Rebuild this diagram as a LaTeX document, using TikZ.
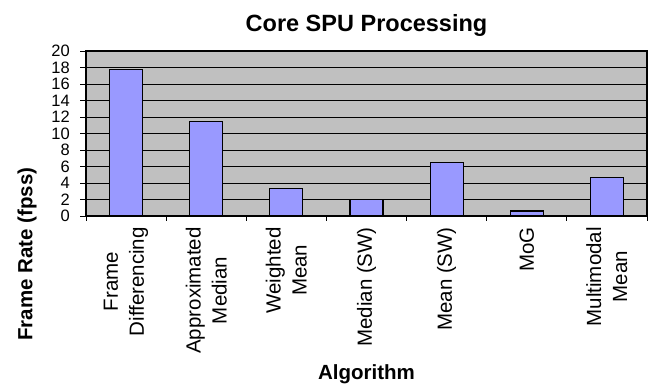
\documentclass[tikz,border=0pt]{standalone}
\usepackage{fontspec}
\setmainfont{Liberation Sans}
\usetikzlibrary{positioning}
\definecolor{plotgray}{HTML}{C0C0C0}
\definecolor{barblue}{HTML}{9999FF}

\begin{document}
\begin{tikzpicture}[
  x=1pt,y=1pt,
  plotarea/.style={fill=plotgray},
  grid line/.style={line width=0.9pt},
  frame/.style={draw,line width=1.2pt},
  bar/.style={draw,line width=1.2pt,fill=barblue},
  tickmark/.style={line width=0.9pt},
  ticklabel/.style={anchor=east,inner sep=0pt,font=\fontsize{16.5}{18}\selectfont},
  catlabel/.style={rotate=90,anchor=east,align=center,inner sep=0pt,font=\fontsize{20.5}{26}\selectfont},
  axistitle/.style={inner sep=0pt,font=\fontsize{20.5}{24}\selectfont\bfseries}
]
\useasboundingbox (0,0) rectangle (649,390);
% plot area: value 0 at y=174, value 20 at y=339, 8.25pt per unit
\fill[plotarea] (86,174) rectangle (647,339);
\foreach \v in {2,4,...,18}
  \draw[grid line] (86,174+8.25*\v) -- (647,174+8.25*\v);
% bars, one per algorithm
\foreach \val [count=\i from 0] in {17.8,11.5,3.3,2.0,6.5,0.6,4.7}
  \draw[bar] (86+80.14*\i+23.57,174) rectangle (86+80.14*\i+56.57,174+8.25*\val);
\draw[frame] (86,174) rectangle (647,339);
% axis ticks and numbers
\foreach \v in {0,2,...,20} {
  \draw[tickmark] (80,174+8.25*\v) -- (86,174+8.25*\v);
  \node[ticklabel] (yl\v) at (70,174+8.25*\v) {\v};
}
\foreach \k in {0,...,7}
  \draw[tickmark] (86+80.14*\k,174) -- (86+80.14*\k,168.5);
% category names
\node[catlabel] (cat1) at (126.07,163) {Frame\\Differencing};
\node[catlabel] (cat2) at (206.21,163) {Approximated\\Median};
\node[catlabel] (cat3) at (286.35,163) {Weighted\\Mean};
\node[catlabel] (cat4) at (366.49,163) {Median (SW)};
\node[catlabel] (cat5) at (446.63,163) {Mean (SW)};
\node[catlabel] (cat6) at (526.77,163) {MoG};
\node[catlabel] (cat7) at (606.91,163) {Multimodal\\Mean};
% titles
\node[axistitle,anchor=base,font=\fontsize{23.5}{28}\selectfont\bfseries] (title) at (366.5,358.3) {Core SPU Processing};
\node[axistitle,rotate=90] (ylabel) at (27,136) {Frame Rate (fpss)};
\node[axistitle,anchor=base] (xlabel) at (366.5,10.5) {Algorithm};
\end{tikzpicture}
\end{document}
